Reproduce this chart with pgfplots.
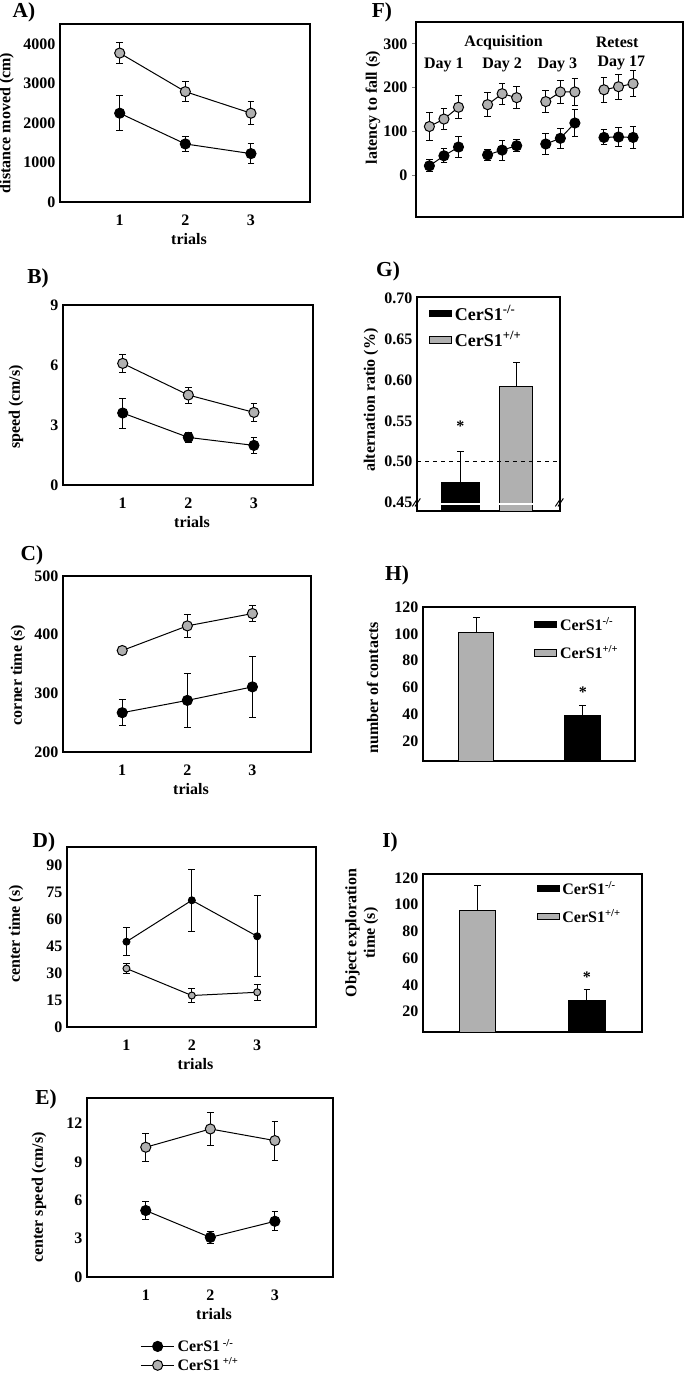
\documentclass[border=0pt]{standalone}
\usepackage{pgfplots}
\pgfplotsset{compat=1.18}
\usepackage{fontspec}
\setmainfont{Liberation Serif}
\definecolor{gfill}{RGB}{176,176,176}
\newcommand{\lab}{\bfseries\fontsize{12}{14}\selectfont}
\newcommand{\plab}{\bfseries\fontsize{16}{18}\selectfont}
\pgfplotsset{
 panel/.style={scale only axis, axis line style={line width=1.4pt}, major tick length=0pt,
   tick label style={font=\lab}, label style={font=\lab},
   /pgf/number format/assume math mode=true, /pgf/number format/set thousands separator={},
   clip mode=individual},
 yl/.style 2 args={ylabel style={at={([xshift=-#1pt,yshift=#2pt]rel axis cs:0,0.5)}, anchor=south, inner sep=1pt}},
 trialsx/.style={xmin=0.09, xmax=3.9, xtick={1,2,3}, xlabel={trials},
   xticklabel style={anchor=center, yshift=-14pt},
   xlabel style={at={([xshift=3pt,yshift=-28pt]rel axis cs:0.5,0)}, anchor=center}},
 ser/.style={line width=0.75pt, mark=*, mark size=3.8pt,
   error bars/y dir=both, error bars/y explicit,
   error bars/error bar style={line width=0.75pt, black},
   error bars/error mark options={rotate=90, mark size=2.5pt, line width=0.75pt, black}},
 blk/.style={ser, black, mark options={fill=black, draw=black}},
 gry/.style={ser, black, mark options={fill=gfill, draw=black}},
 bar/.style={ybar, draw=black, line width=0.75pt,
   error bars/y dir=plus, error bars/y explicit,
   error bars/error bar style={line width=0.75pt, black},
   error bars/error mark options={rotate=90, mark size=2.5pt, line width=0.75pt, black},
   legend image code/.code={\draw[##1, line width=0.75pt] (0cm,-0.085cm) rectangle (0.58cm,0.085cm);}},
}
\begin{document}
\begin{tikzpicture}
\useasboundingbox (0,0) rectangle (513.75pt,-1031.25pt);
% ---------- A
\begin{axis}[panel, trialsx, at={(45pt,-18pt)}, anchor=north west, width=187.5pt, height=133.5pt,
  ymin=0, ymax=4500, ytick={0,1000,2000,3000,4000}, ylabel={distance moved (cm)}, yl={33.5}{-7.5}]
\addplot[gry] coordinates {(1,3765) +- (0,275) (2,2790) +- (0,250) (3,2245) +- (0,290)};
\addplot[blk] coordinates {(1,2245) +- (0,440) (2,1468) +- (0,180) (3,1223) +- (0,250)};
\end{axis}
\node[font=\plab] at (18pt,-9pt) {A)};
% ---------- B
\begin{axis}[panel, trialsx, at={(47.25pt,-228.75pt)}, anchor=north west, width=187.5pt, height=135pt,
  ymin=0, ymax=9, ytick={0,3,6,9}, ylabel={speed (cm/s)}, yl={28.5}{-9}]
\addplot[gry] coordinates {(1,6.08) +- (0,0.45) (2,4.5) +- (0,0.4) (3,3.63) +- (0,0.45)};
\addplot[blk] coordinates {(1,3.6) +- (0,0.75) (2,2.38) +- (0,0.27) (3,1.98) +- (0,0.42)};
\end{axis}
\node[font=\plab] at (28.5pt,-208.5pt) {B)};
% ---------- C
\begin{axis}[panel, trialsx, at={(47.25pt,-432pt)}, anchor=north west, width=186pt, height=132pt,
  ymin=200, ymax=500, ytick={200,300,400,500}, ylabel={corner time (s)}, yl={27}{-8.25}]
\addplot[gry] coordinates {(1,373) +- (0,3) (2,415) +- (0,20) (3,436) +- (0,13)};
\addplot[blk] coordinates {(1,267) +- (0,22) (2,288) +- (0,46) (3,311) +- (0,52)};
\end{axis}
\node[font=\plab] at (24pt,-416.25pt) {C)};
% ---------- D
\begin{axis}[panel, trialsx, at={(50.25pt,-635.25pt)}, anchor=north west, width=186.75pt, height=135pt,
  ymin=0, ymax=100, ytick={0,15,30,45,60,75,90}, ylabel={center time (s)}, yl={31.5}{2.25}]
\addplot[gry, mark size=2.6pt] coordinates {(1,32.5) +- (0,2.8) (2,17.5) +- (0,3.9) (3,19.3) +- (0,4.5)};
\addplot[blk, mark size=2.6pt] coordinates {(1,47.4) +- (0,7.8) (2,70.4) +- (0,17.3) (3,50.4) +- (0,22.6)};
\end{axis}
\node[font=\plab] at (33pt,-631.5pt) {D)};
% ---------- E
\begin{axis}[panel, trialsx, at={(65.25pt,-823.5pt)}, anchor=north west, width=184.5pt, height=134.25pt,
  ymin=0, ymax=14, ytick={0,3,6,9,12}, ylabel={center speed (cm/s)}, yl={29.25}{-7.5},
  legend style={draw=none, fill=none, at={(0.2,-0.315)}, anchor=north west, font=\lab, row sep=-1pt},
  legend cell align=left,
  legend image code/.code={\draw[mark repeat=2,mark phase=2,#1] plot coordinates {(0cm,0cm) (0.44cm,0cm) (0.88cm,0cm)};}]
\addplot[blk] coordinates {(1,5.2) +- (0,0.73) (2,3.1) +- (0,0.44) (3,4.36) +- (0,0.76)};
\addplot[gry] coordinates {(1,10.15) +- (0,1.1) (2,11.58) +- (0,1.28) (3,10.67) +- (0,1.53)};
\legend{CerS1\,\textsuperscript{-/-}, CerS1\,\textsuperscript{+/+}}
\end{axis}
\node[font=\plab] at (34.5pt,-824.25pt) {E)};
% ---------- F
\begin{axis}[panel, at={(312pt,-16.5pt)}, anchor=north west, width=200.25pt, height=146.25pt,
  xmin=0.08, xmax=18.43, xtick=\empty, ymin=-96, ymax=350, ytick={0,100,200,300}, ytick pos=left,
  ylabel={latency to fall (s)}, yl={25.5}{9}, major tick length=3pt, tick align=outside, ytick style={line width=0.75pt}]
\addplot[gry] coordinates {(1,111) +- (0,32) (2,128) +- (0,25) (3,155) +- (0,26)};
\addplot[gry] coordinates {(5,161) +- (0,27) (6,186) +- (0,24) (7,177) +- (0,25)};
\addplot[gry] coordinates {(9,168) +- (0,25) (10,190) +- (0,27) (11,190) +- (0,31)};
\addplot[gry] coordinates {(13,195) +- (0,28) (14,202) +- (0,29) (15,209) +- (0,30)};
\addplot[blk] coordinates {(1,21) +- (0,14) (2,44) +- (0,16) (3,64) +- (0,24)};
\addplot[blk] coordinates {(5,46) +- (0,13) (6,57) +- (0,23) (7,67) +- (0,14)};
\addplot[blk] coordinates {(9,71) +- (0,24) (10,84) +- (0,23) (11,119) +- (0,30)};
\addplot[blk] coordinates {(13,86) +- (0,17) (14,87) +- (0,21) (15,86) +- (0,25)};
\node[font=\lab] at (axis cs:6.1,303) {Acquisition};
\node[font=\lab] at (axis cs:13.9,303) {Retest};
\node[font=\lab] at (axis cs:2,252) {Day 1};
\node[font=\lab] at (axis cs:6,252) {Day 2};
\node[font=\lab] at (axis cs:9.8,252) {Day 3};
\node[font=\lab] at (axis cs:14.2,256) {Day 17};
\end{axis}
\node[font=\plab] at (286.5pt,-9pt) {F)};
% ---------- G
\begin{axis}[panel, at={(312.75pt,-222.75pt)}, anchor=north west, width=107.25pt, height=160.5pt,
  xmin=0.226, xmax=2.78, xtick=\empty, ymin=0.4394, ymax=0.702,
  ytick={0.45,0.50,0.55,0.60,0.65,0.70},
  yticklabel style={/pgf/number format/fixed, /pgf/number format/fixed zerofill, /pgf/number format/precision=2},
  ylabel={alternation ratio (\%)}, yl={27.75}{3},
  legend style={draw=none, fill=none, at={(0.056,0.99)}, anchor=north west, font=\bfseries\fontsize{13.5}{15}\selectfont, row sep=3pt},
  legend cell align=left]
\addplot[bar, fill=black, bar width=0.67] coordinates {(1,0.474) +- (0,0.039)};
\addplot[bar, fill=gfill, bar width=0.59] coordinates {(2,0.592) +- (0,0.030)};
\legend{CerS1\textsuperscript{-/-}, CerS1\textsuperscript{+/+}}
\draw[dashed, line width=0.75pt] (axis cs:0.226,0.5) -- (axis cs:2.78,0.5);
\draw[white, line width=1.5pt] (axis cs:0.655,0.448) -- (axis cs:1.345,0.448);
\draw[white, line width=1.5pt] (axis cs:1.695,0.448) -- (axis cs:2.305,0.448);
\node[font=\lab] at (axis cs:1,0.544) {*};
\draw[line width=0.75pt] ([xshift=-3.5pt,yshift=-3pt]rel axis cs:0,0.04) -- ++(4pt,6pt);
\draw[line width=0.75pt] ([xshift=-1.5pt,yshift=-3pt]rel axis cs:0,0.04) -- ++(4pt,6pt);
\draw[line width=0.75pt] ([xshift=-3.5pt,yshift=-3pt]rel axis cs:1,0.04) -- ++(4pt,6pt);
\draw[line width=0.75pt] ([xshift=-1.5pt,yshift=-3pt]rel axis cs:1,0.04) -- ++(4pt,6pt);
\end{axis}
\node[font=\plab] at (291pt,-203.25pt) {G)};
% ---------- H
\begin{axis}[panel, at={(317.25pt,-455.25pt)}, anchor=north west, width=159pt, height=115.5pt,
  xmin=0.5, xmax=2.49, xtick=\empty, ymin=5, ymax=120, ytick={20,40,60,80,100,120},
  ylabel={number of contacts}, yl={32.25}{-3},
  legend style={draw=none, fill=none, at={(0.505,0.97)}, anchor=north west, font=\lab, row sep=6pt},
  legend cell align=left]
\addplot[bar, fill=black, bar width=0.335] coordinates {(2,39) +- (0,7.7)};
\addplot[bar, fill=gfill, bar width=0.33] coordinates {(1,101) +- (0,11.2)};
\legend{CerS1\textsuperscript{-/-}, CerS1\textsuperscript{+/+}}
\node[font=\lab] at (axis cs:2,56.7) {*};
\end{axis}
\node[font=\plab] at (297.75pt,-431.25pt) {H)};
% ---------- I
\begin{axis}[panel, at={(317.25pt,-655.5pt)}, anchor=north west, width=164.25pt, height=118.5pt,
  xmin=0.502, xmax=2.504, xtick=\empty, ymin=4.8, ymax=123, ytick={20,40,60,80,100,120},
  ylabel={Object exploration\\time (s)}, yl={32.25}{15}, ylabel style={align=center},
  legend style={draw=none, fill=none, at={(0.5,0.99)}, anchor=north west, font=\lab, row sep=6pt},
  legend cell align=left]
\addplot[bar, fill=black, bar width=0.333] coordinates {(2,28.2) +- (0,8.1)};
\addplot[bar, fill=gfill, bar width=0.333] coordinates {(1,95.7) +- (0,18.5)};
\legend{CerS1\textsuperscript{-/-}, CerS1\textsuperscript{+/+}}
\node[font=\lab] at (axis cs:2,46) {*};
\end{axis}
\node[font=\plab] at (292.5pt,-631.5pt) {I)};
\end{tikzpicture}
\end{document}
